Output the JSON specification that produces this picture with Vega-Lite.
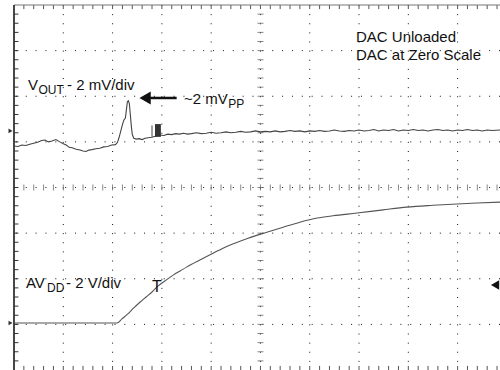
{
  "$schema": "https://vega.github.io/schema/vega-lite/v6.json",
  "autosize": {"type": "none"},
  "padding": {"left": 14, "top": 5, "right": 0, "bottom": 0},
  "width": 486,
  "height": 365,
  "background": "white",
  "config": {"view": {"stroke": null}, "axis": {"disable": true}},
  "datasets": {
    "hgrid": [{"y": 1}, {"y": 2}, {"y": 3}, {"y": 4}, {"y": 5}, {"y": 6}, {"y": 7}],
    "vgrid": [{"x": 1}, {"x": 2}, {"x": 3}, {"x": 4}, {"x": 5}, {"x": 6}, {"x": 7}, {"x": 8}, {"x": 9}],
    "xminor": [{"x":0.2},{"x":0.4},{"x":0.6},{"x":0.8},{"x":1.0},{"x":1.2},{"x":1.4},{"x":1.6},{"x":1.8},{"x":2.0},{"x":2.2},{"x":2.4},{"x":2.6},{"x":2.8},{"x":3.0},{"x":3.2},{"x":3.4},{"x":3.6},{"x":3.8},{"x":4.0},{"x":4.2},{"x":4.4},{"x":4.6},{"x":4.8},{"x":5.0},{"x":5.2},{"x":5.4},{"x":5.6},{"x":5.8},{"x":6.0},{"x":6.2},{"x":6.4},{"x":6.6},{"x":6.8},{"x":7.0},{"x":7.2},{"x":7.4},{"x":7.6},{"x":7.8},{"x":8.0},{"x":8.2},{"x":8.4},{"x":8.6},{"x":8.8},{"x":9.0},{"x":9.2},{"x":9.4},{"x":9.6},{"x":9.8}],
    "yminor": [{"y":0.2},{"y":0.4},{"y":0.6},{"y":0.8},{"y":1.0},{"y":1.2},{"y":1.4},{"y":1.6},{"y":1.8},{"y":2.0},{"y":2.2},{"y":2.4},{"y":2.6},{"y":2.8},{"y":3.0},{"y":3.2},{"y":3.4},{"y":3.6},{"y":3.8},{"y":4.0},{"y":4.2},{"y":4.4},{"y":4.6},{"y":4.8},{"y":5.0},{"y":5.2},{"y":5.4},{"y":5.6},{"y":5.8},{"y":6.0},{"y":6.2},{"y":6.4},{"y":6.6},{"y":6.8},{"y":7.0},{"y":7.2},{"y":7.4},{"y":7.6},{"y":7.8}],
    "vout": [
      {"x":0.00,"y":4.91},{"x":0.08,"y":4.90},{"x":0.16,"y":4.93},{"x":0.24,"y":4.92},{"x":0.32,"y":4.95},{"x":0.40,"y":4.97},{"x":0.48,"y":4.99},{"x":0.56,"y":5.03},{"x":0.63,"y":5.04},{"x":0.70,"y":5.00},{"x":0.77,"y":5.02},{"x":0.85,"y":5.05},{"x":0.93,"y":5.00},{"x":1.00,"y":4.96},{"x":1.06,"y":4.93},{"x":1.12,"y":4.88},{"x":1.18,"y":4.87},{"x":1.26,"y":4.84},{"x":1.34,"y":4.82},{"x":1.40,"y":4.80},{"x":1.46,"y":4.79},{"x":1.52,"y":4.82},{"x":1.58,"y":4.83},{"x":1.66,"y":4.85},{"x":1.74,"y":4.86},{"x":1.82,"y":4.89},{"x":1.90,"y":4.90},{"x":1.98,"y":4.93},{"x":2.06,"y":4.94},{"x":2.10,"y":4.99},{"x":2.13,"y":5.09},{"x":2.17,"y":5.25},{"x":2.20,"y":5.38},{"x":2.23,"y":5.48},{"x":2.26,"y":5.52},{"x":2.28,"y":5.70},{"x":2.30,"y":5.88},{"x":2.32,"y":5.90},{"x":2.34,"y":5.84},{"x":2.36,"y":5.60},{"x":2.38,"y":5.35},{"x":2.40,"y":5.16},{"x":2.43,"y":5.08},{"x":2.48,"y":5.06},{"x":2.54,"y":5.07},{"x":2.60,"y":5.05},{"x":2.66,"y":5.08},{"x":2.72,"y":5.09},{"x":2.80,"y":5.10},{"x":2.88,"y":5.13},{"x":2.96,"y":5.15},{"x":3.04,"y":5.14},{"x":3.12,"y":5.17},{"x":3.20,"y":5.16},{"x":3.28,"y":5.18},{"x":3.36,"y":5.17},{"x":3.44,"y":5.19},{"x":3.52,"y":5.17},{"x":3.60,"y":5.18},{"x":3.70,"y":5.20},{"x":3.80,"y":5.18},{"x":3.90,"y":5.19},{"x":4.00,"y":5.21},{"x":4.10,"y":5.19},{"x":4.20,"y":5.20},{"x":4.30,"y":5.22},{"x":4.40,"y":5.20},{"x":4.50,"y":5.21},{"x":4.60,"y":5.23},{"x":4.70,"y":5.21},{"x":4.80,"y":5.22},{"x":4.90,"y":5.24},{"x":5.00,"y":5.22},{"x":5.10,"y":5.23},{"x":5.20,"y":5.22},{"x":5.30,"y":5.24},{"x":5.40,"y":5.22},{"x":5.50,"y":5.23},{"x":5.60,"y":5.25},{"x":5.70,"y":5.23},{"x":5.80,"y":5.24},{"x":5.90,"y":5.22},{"x":6.00,"y":5.24},{"x":6.10,"y":5.23},{"x":6.20,"y":5.25},{"x":6.30,"y":5.23},{"x":6.40,"y":5.24},{"x":6.50,"y":5.26},{"x":6.60,"y":5.24},{"x":6.70,"y":5.23},{"x":6.80,"y":5.25},{"x":6.90,"y":5.24},{"x":7.00,"y":5.26},{"x":7.10,"y":5.24},{"x":7.20,"y":5.25},{"x":7.30,"y":5.27},{"x":7.40,"y":5.24},{"x":7.50,"y":5.26},{"x":7.60,"y":5.25},{"x":7.70,"y":5.27},{"x":7.80,"y":5.24},{"x":7.90,"y":5.26},{"x":8.00,"y":5.25},{"x":8.10,"y":5.27},{"x":8.20,"y":5.25},{"x":8.30,"y":5.26},{"x":8.40,"y":5.24},{"x":8.50,"y":5.26},{"x":8.60,"y":5.27},{"x":8.70,"y":5.25},{"x":8.80,"y":5.26},{"x":8.90,"y":5.24},{"x":9.00,"y":5.26},{"x":9.10,"y":5.25},{"x":9.20,"y":5.27},{"x":9.30,"y":5.25},{"x":9.40,"y":5.26},{"x":9.50,"y":5.24},{"x":9.60,"y":5.26},{"x":9.70,"y":5.25},{"x":9.86,"y":5.26}
    ],
    "avdd": [
      {"x":0.00,"y":1.03},{"x":2.09,"y":1.03},{"x":2.19,"y":1.12},{"x":2.31,"y":1.23},{"x":2.43,"y":1.36},{"x":2.56,"y":1.49},{"x":2.68,"y":1.60},{"x":2.80,"y":1.71},{"x":2.92,"y":1.84},{"x":3.06,"y":1.95},{"x":3.23,"y":2.08},{"x":3.37,"y":2.17},{"x":3.51,"y":2.26},{"x":3.77,"y":2.41},{"x":4.04,"y":2.56},{"x":4.24,"y":2.67},{"x":4.48,"y":2.78},{"x":4.75,"y":2.89},{"x":5.13,"y":3.02},{"x":5.46,"y":3.13},{"x":5.80,"y":3.24},{"x":6.15,"y":3.33},{"x":6.47,"y":3.38},{"x":6.96,"y":3.44},{"x":7.49,"y":3.51},{"x":7.97,"y":3.57},{"x":8.50,"y":3.61},{"x":8.99,"y":3.64},{"x":9.39,"y":3.66},{"x":9.86,"y":3.68}
    ],
    "labels15": [
      {"x":0.284,"y":6.137,"t":"V"},
      {"x":1.075,"y":6.137,"t":"- 2 mV/div"},
      {"x":3.449,"y":5.830,"t":"~2 mV"},
      {"x":6.938,"y":7.196,"t":"DAC Unloaded"},
      {"x":6.938,"y":6.801,"t":"DAC at Zero Scale"},
      {"x":0.243,"y":1.797,"t":"AV"},
      {"x":1.055,"y":1.797,"t":"- 2 V/div"}
    ],
    "labels12": [
      {"x":0.497,"y":6.043,"t":"OUT"},
      {"x":4.345,"y":5.736,"t":"PP"},
      {"x":0.669,"y":1.710,"t":"DD"}
    ]
  },
  "layer": [
    {
      "data": {"name": "hgrid"},
      "mark": {"type": "rule", "color": "#111", "strokeWidth": 1, "strokeDash": [1, 8.86]},
      "encoding": {"y": {"field": "y", "type": "quantitative", "scale": {"domain": [0, 8], "nice": false, "zero": false}}}
    },
    {
      "data": {"name": "vgrid"},
      "mark": {"type": "rule", "color": "#111", "strokeWidth": 1, "strokeDash": [1, 8.125]},
      "encoding": {"x": {"field": "x", "type": "quantitative", "scale": {"domain": [0, 9.86], "nice": false, "zero": false}}}
    },
    {
      "data": {"name": "xminor"},
      "mark": {"type": "tick", "orient": "vertical", "size": 6, "thickness": 1, "color": "#555"},
      "encoding": {
        "x": {"field": "x", "type": "quantitative", "scale": {"domain": [0, 9.86], "nice": false, "zero": false}},
        "y": {"datum": 4, "type": "quantitative", "scale": {"domain": [0, 8], "nice": false, "zero": false}}
      }
    },
    {
      "data": {"name": "yminor"},
      "mark": {"type": "tick", "orient": "horizontal", "size": 6, "thickness": 1, "color": "#555"},
      "encoding": {
        "y": {"field": "y", "type": "quantitative", "scale": {"domain": [0, 8], "nice": false, "zero": false}},
        "x": {"datum": 5, "type": "quantitative", "scale": {"domain": [0, 9.86], "nice": false, "zero": false}}
      }
    },
    {
      "data": {"name": "xminor"},
      "mark": {"type": "rule", "color": "#555", "strokeWidth": 1},
      "encoding": {
        "x": {"field": "x", "type": "quantitative", "scale": {"domain": [0, 9.86], "nice": false, "zero": false}},
        "y": {"datum": 8, "type": "quantitative", "scale": {"domain": [0, 8], "nice": false, "zero": false}},
        "y2": {"datum": 7.91}
      }
    },
    {
      "data": {"name": "xminor"},
      "mark": {"type": "rule", "color": "#555", "strokeWidth": 1},
      "encoding": {
        "x": {"field": "x", "type": "quantitative", "scale": {"domain": [0, 9.86], "nice": false, "zero": false}},
        "y": {"datum": 0, "type": "quantitative", "scale": {"domain": [0, 8], "nice": false, "zero": false}},
        "y2": {"datum": 0.09}
      }
    },
    {
      "data": {"name": "yminor"},
      "mark": {"type": "rule", "color": "#333", "strokeWidth": 1},
      "encoding": {
        "y": {"field": "y", "type": "quantitative", "scale": {"domain": [0, 8], "nice": false, "zero": false}},
        "x": {"datum": 0, "type": "quantitative", "scale": {"domain": [0, 9.86], "nice": false, "zero": false}},
        "x2": {"datum": 0.09}
      }
    },
    {
      "data": {"values": [{}]},
      "mark": {"type": "rule", "color": "#777", "strokeWidth": 1.2},
      "encoding": {"y": {"datum": 8, "type": "quantitative", "scale": {"domain": [0, 8], "nice": false, "zero": false}}}
    },
    {
      "data": {"values": [{}]},
      "mark": {"type": "rule", "color": "#333", "strokeWidth": 1.8},
      "encoding": {"x": {"datum": 0, "type": "quantitative", "scale": {"domain": [0, 9.86], "nice": false, "zero": false}}}
    },
    {
      "data": {"name": "vout"},
      "mark": {"type": "line", "color": "#444", "strokeWidth": 1.1},
      "encoding": {
        "x": {"field": "x", "type": "quantitative", "scale": {"domain": [0, 9.86], "nice": false, "zero": false}},
        "y": {"field": "y", "type": "quantitative", "scale": {"domain": [0, 8], "nice": false, "zero": false}}
      }
    },
    {
      "data": {"name": "avdd"},
      "mark": {"type": "line", "color": "#555", "strokeWidth": 1.1, "interpolate": "monotone"},
      "encoding": {
        "x": {"field": "x", "type": "quantitative", "scale": {"domain": [0, 9.86], "nice": false, "zero": false}},
        "y": {"field": "y", "type": "quantitative", "scale": {"domain": [0, 8], "nice": false, "zero": false}}
      }
    },
    {
      "data": {"values": [{}]},
      "mark": {"type": "rect", "color": "#333"},
      "encoding": {
        "x": {"datum": 2.86, "type": "quantitative", "scale": {"domain": [0, 9.86], "nice": false, "zero": false}},
        "x2": {"datum": 2.98},
        "y": {"datum": 5.11, "type": "quantitative", "scale": {"domain": [0, 8], "nice": false, "zero": false}},
        "y2": {"datum": 5.39}
      }
    },
    {
      "data": {"values": [{}]},
      "mark": {"type": "rule", "color": "#444", "strokeWidth": 1},
      "encoding": {
        "x": {"datum": 2.80, "type": "quantitative", "scale": {"domain": [0, 9.86], "nice": false, "zero": false}},
        "y": {"datum": 5.11, "type": "quantitative", "scale": {"domain": [0, 8], "nice": false, "zero": false}},
        "y2": {"datum": 5.36}
      }
    },
    {
      "data": {"values": [{}]},
      "mark": {"type": "rule", "color": "#111", "strokeWidth": 2.5},
      "encoding": {
        "x": {"datum": 2.76, "type": "quantitative", "scale": {"domain": [0, 9.86], "nice": false, "zero": false}},
        "x2": {"datum": 3.30},
        "y": {"datum": 5.962, "type": "quantitative", "scale": {"domain": [0, 8], "nice": false, "zero": false}}
      }
    },
    {
      "data": {"values": [{}]},
      "mark": {"type": "point", "shape": "triangle-left", "filled": true, "color": "#111", "size": 170, "opacity": 1},
      "encoding": {
        "x": {"datum": 2.66, "type": "quantitative", "scale": {"domain": [0, 9.86], "nice": false, "zero": false}},
        "y": {"datum": 5.962, "type": "quantitative", "scale": {"domain": [0, 8], "nice": false, "zero": false}}
      }
    },
    {
      "data": {"values": [{}]},
      "mark": {"type": "point", "shape": "triangle-left", "filled": true, "color": "#111", "size": 90, "opacity": 1},
      "encoding": {
        "x": {"datum": 9.76, "type": "quantitative", "scale": {"domain": [0, 9.86], "nice": false, "zero": false}},
        "y": {"datum": 1.863, "type": "quantitative", "scale": {"domain": [0, 8], "nice": false, "zero": false}}
      }
    },
    {
      "data": {"values": [{"y": 5.24}, {"y": 1.03}]},
      "mark": {"type": "point", "shape": "triangle-right", "filled": true, "color": "#333", "size": 22, "opacity": 1},
      "encoding": {
        "x": {"datum": -0.07, "type": "quantitative", "scale": {"domain": [0, 9.86], "nice": false, "zero": false}},
        "y": {"field": "y", "type": "quantitative", "scale": {"domain": [0, 8], "nice": false, "zero": false}}
      }
    },
    {
      "data": {"name": "labels15"},
      "mark": {"type": "text", "font": "Liberation Sans", "fontSize": 15, "align": "left", "baseline": "alphabetic", "color": "#111"},
      "encoding": {
        "x": {"field": "x", "type": "quantitative", "scale": {"domain": [0, 9.86], "nice": false, "zero": false}},
        "y": {"field": "y", "type": "quantitative", "scale": {"domain": [0, 8], "nice": false, "zero": false}},
        "text": {"field": "t"}
      }
    },
    {
      "data": {"name": "labels12"},
      "mark": {"type": "text", "font": "Liberation Sans", "fontSize": 12, "align": "left", "baseline": "alphabetic", "color": "#111"},
      "encoding": {
        "x": {"field": "x", "type": "quantitative", "scale": {"domain": [0, 9.86], "nice": false, "zero": false}},
        "y": {"field": "y", "type": "quantitative", "scale": {"domain": [0, 8], "nice": false, "zero": false}},
        "text": {"field": "t"}
      }
    },
    {
      "data": {"values": [{"t": "T"}]},
      "mark": {"type": "text", "font": "Liberation Sans", "fontSize": 16, "align": "center", "baseline": "alphabetic", "color": "#111"},
      "encoding": {
        "x": {"datum": 2.90, "type": "quantitative", "scale": {"domain": [0, 9.86], "nice": false, "zero": false}},
        "y": {"datum": 1.71, "type": "quantitative", "scale": {"domain": [0, 8], "nice": false, "zero": false}},
        "text": {"field": "t"}
      }
    }
  ]
}
